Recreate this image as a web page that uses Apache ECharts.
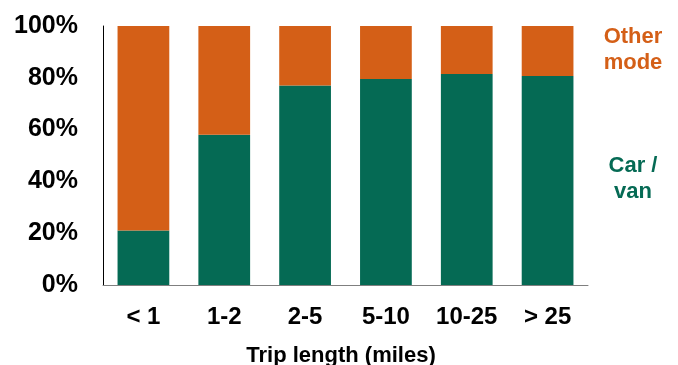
<!DOCTYPE html>
<html>
<head>
<meta charset="utf-8">
<script src="https://cdn.jsdelivr.net/npm/echarts@6/dist/echarts.min.js"></script>
<style>html,body{margin:0;padding:0;background:#fff;}#c{width:678px;height:365px;}</style>
</head>
<body>
<div id="c"></div>
<script>
const categories = ['< 1', '1-2', '2-5', '5-10', '10-25', '> 25'];
const carVan = [21, 58, 77, 79.5, 81.5, 80.7];
const otherMode = [79, 42, 23, 20.5, 18.5, 19.3];
const yTicks = [0, 20, 40, 60, 80, 100];
const axisTitle = 'Trip length (miles)';
const seriesNames = ['Car /\nvan', 'Other\nmode'];

const GREEN = '#056A54';
const ORANGE = '#D45F17';
const FONT = '"Liberation Sans", Arial, sans-serif';

const chart = echarts.init(document.getElementById('c'), null, {renderer: 'canvas'});
chart.setOption({
  animation: false,
  backgroundColor: '#fff',
  grid: {left: 103, right: 90, top: 26, bottom: 80, containLabel: false},
  xAxis: {
    type: 'category',
    data: categories,
    axisLine: {show: true, lineStyle: {color: '#7f7f7f', width: 1}},
    axisTick: {show: false},
    axisLabel: {color: '#000', fontFamily: FONT, fontWeight: 'bold', fontSize: 24, margin: 20}
  },
  yAxis: {
    type: 'value',
    min: yTicks[0],
    max: yTicks[yTicks.length - 1],
    interval: yTicks[1] - yTicks[0],
    splitLine: {show: false},
    axisLine: {show: true, lineStyle: {color: '#000', width: 1}},
    axisTick: {show: false},
    axisLabel: {color: '#000', fontFamily: FONT, fontWeight: 'bold', fontSize: 25, margin: 25,
      formatter: v => v + '%'}
  },
  series: [
    {name: seriesNames[0], type: 'bar', stack: 's', data: carVan, barCategoryGap: '36%',
     itemStyle: {color: GREEN}},
    {name: seriesNames[1], type: 'bar', stack: 's', data: otherMode, barCategoryGap: '36%',
     itemStyle: {color: ORANGE}}
  ],
  graphic: [
    {type: 'text', x: 633, y: 24, style: {text: seriesNames[1], fill: ORANGE, font: 'bold 22px ' + FONT,
      align: 'center', verticalAlign: 'top', lineHeight: 26}},
    {type: 'text', x: 633, y: 153, style: {text: seriesNames[0], fill: GREEN, font: 'bold 22px ' + FONT,
      align: 'center', verticalAlign: 'top', lineHeight: 26}},
    {type: 'text', x: 341, y: 345, style: {text: axisTitle, fill: '#000', font: 'bold 22px ' + FONT,
      align: 'center', verticalAlign: 'top'}}
  ]
});
</script>
</body>
</html>
